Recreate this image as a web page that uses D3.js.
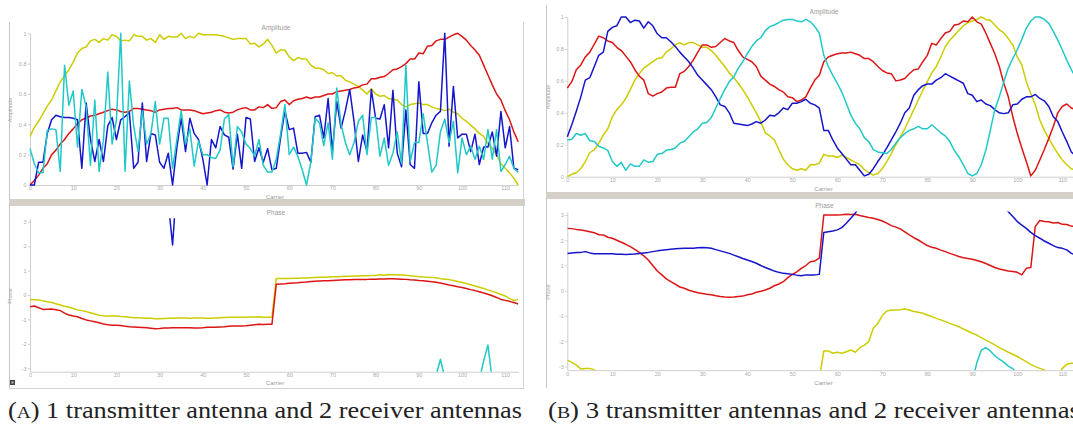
<!DOCTYPE html>
<html><head><meta charset="utf-8">
<script src="https://cdn.jsdelivr.net/npm/d3@7"></script>
<style>body{margin:0;background:#fff}svg{display:block}</style>
</head><body>
<svg id="c" width="1073" height="430"></svg>
<script>
// ---------------- DATA ----------------
const carriers = d3.range(114);
const carrierTicks = [0,10,20,30,40,50,60,70,80,90,100,110];
const ampTicks = [0,0.2,0.4,0.6,0.8,1];
const phaseTicks = [-3,-2,-1,0,1,2,3];
const seriesNames = ["yellow","red","blue","cyan"];

// Panel A (1 TX, 2 RX) amplitude
const ampA_yellow = [0.32,0.38,0.42,0.47,0.52,0.56,0.62,0.68,0.72,0.76,0.81,0.87,0.90,0.91,0.95,0.96,0.94,0.965,0.955,0.99,0.98,0.95,0.955,0.95,0.99,0.98,0.98,0.955,0.965,0.94,0.99,0.96,0.98,0.975,0.975,1.0,0.965,0.98,0.97,1.0,0.99,0.99,0.99,0.99,0.985,0.98,0.97,0.96,0.965,0.965,0.965,0.93,0.935,0.91,0.93,0.96,0.92,0.87,0.89,0.89,0.845,0.82,0.84,0.83,0.83,0.79,0.77,0.77,0.76,0.735,0.74,0.72,0.72,0.69,0.68,0.665,0.65,0.625,0.60,0.635,0.60,0.585,0.59,0.57,0.565,0.56,0.53,0.515,0.53,0.535,0.54,0.53,0.53,0.515,0.505,0.50,0.49,0.50,0.48,0.47,0.44,0.42,0.395,0.37,0.34,0.32,0.275,0.24,0.20,0.14,0.11,0.08,0.045,0.0];
const ampA_red = [0.0,0.03,0.065,0.11,0.14,0.20,0.23,0.27,0.30,0.34,0.37,0.405,0.43,0.44,0.455,0.46,0.47,0.48,0.49,0.50,0.495,0.485,0.48,0.485,0.505,0.505,0.50,0.495,0.49,0.48,0.495,0.50,0.505,0.505,0.51,0.495,0.495,0.495,0.49,0.48,0.47,0.475,0.48,0.49,0.495,0.48,0.475,0.48,0.495,0.505,0.51,0.495,0.495,0.515,0.51,0.53,0.505,0.51,0.55,0.56,0.53,0.555,0.565,0.57,0.58,0.57,0.58,0.58,0.59,0.60,0.60,0.615,0.62,0.625,0.63,0.64,0.645,0.66,0.665,0.70,0.70,0.71,0.715,0.735,0.76,0.765,0.78,0.80,0.83,0.83,0.87,0.865,0.915,0.92,0.95,0.96,0.96,0.975,0.99,1.0,0.98,0.955,0.92,0.89,0.855,0.79,0.725,0.66,0.60,0.56,0.49,0.43,0.35,0.285];
const ampA_blue = [0.0,0.0,0.15,0.15,0.34,0.43,0.46,0.45,0.445,0.445,0.44,0.43,0.11,0.54,0.30,0.155,0.30,0.155,0.39,0.445,0.30,0.43,0.45,0.48,0.11,0.15,0.54,0.155,0.34,0.33,0.15,0.11,0.21,0.0,0.25,0.44,0.22,0.44,0.34,0.30,0.17,0.0,0.30,0.245,0.385,0.33,0.315,0.105,0.335,0.11,0.445,0.435,0.155,0.245,0.15,0.24,0.10,0.11,0.31,0.49,0.365,0.375,0.21,0.21,0.215,0.15,0.45,0.46,0.31,0.57,0.22,0.55,0.375,0.49,0.63,0.42,0.155,0.33,0.22,0.63,0.44,0.435,0.53,0.245,0.625,0.21,0.12,0.495,0.135,0.11,0.68,0.34,0.34,0.41,0.46,0.485,1.0,0.255,0.65,0.31,0.335,0.335,0.22,0.335,0.135,0.25,0.25,0.35,0.19,0.485,0.245,0.385,0.11,0.10];
const ampA_cyan = [0.24,0.14,0.08,0.08,0.36,0.37,0.365,0.09,0.79,0.525,0.62,0.25,0.63,0.515,0.13,0.56,0.09,0.30,0.745,0.27,0.43,1.0,0.09,0.685,0.39,0.22,0.49,0.27,0.34,0.55,0.27,0.44,0.44,0.11,0.30,0.49,0.27,0.37,0.125,0.29,0.20,0.20,0.18,0.175,0.23,0.435,0.465,0.12,0.385,0.35,0.27,0.24,0.19,0.30,0.13,0.085,0.085,0.17,0.335,0.53,0.20,0.25,0.19,0.10,0.0,0.15,0.44,0.41,0.26,0.41,0.17,0.64,0.40,0.28,0.20,0.28,0.42,0.46,0.20,0.445,0.445,0.19,0.31,0.13,0.21,0.35,0.14,0.79,0.155,0.28,0.28,0.47,0.28,0.085,0.13,0.35,0.435,0.28,0.42,0.08,0.31,0.20,0.255,0.17,0.255,0.17,0.365,0.17,0.365,0.09,0.135,0.19,0.11,0.085];

// Panel A phase: visible segments only, as [startCarrier, values]
const phA_yellow = [0, [-0.18,-0.19,-0.2,-0.24,-0.28,-0.31,-0.36,-0.41,-0.46,-0.5,-0.55,-0.61,-0.64,-0.68,-0.73,-0.78,-0.83,-0.85,-0.86,-0.86,-0.86,-0.88,-0.89,-0.91,-0.93,-0.93,-0.94,-0.95,-0.95,-0.97,-0.97,-0.96,-0.95,-0.95,-0.94,-0.94,-0.94,-0.95,-0.94,-0.94,-0.94,-0.95,-0.95,-0.94,-0.93,-0.92,-0.91,-0.91,-0.91,-0.91,-0.91,-0.9,-0.9,-0.89,-0.91,-0.91,-0.91,0.68,0.68,0.68,0.68,0.69,0.69,0.70,0.70,0.71,0.72,0.73,0.73,0.74,0.75,0.75,0.76,0.77,0.77,0.78,0.78,0.79,0.79,0.8,0.8,0.83,0.81,0.84,0.83,0.83,0.82,0.81,0.79,0.77,0.76,0.74,0.73,0.72,0.71,0.67,0.65,0.63,0.59,0.55,0.51,0.47,0.42,0.37,0.32,0.27,0.21,0.15,0.09,0.02,-0.04,-0.15,-0.22,-0.18]];
const phA_red = [0, [-0.48,-0.45,-0.52,-0.59,-0.58,-0.57,-0.6,-0.64,-0.74,-0.82,-0.86,-0.89,-0.96,-1.02,-1.06,-1.1,-1.14,-1.19,-1.22,-1.24,-1.24,-1.25,-1.28,-1.3,-1.31,-1.32,-1.33,-1.34,-1.36,-1.38,-1.37,-1.35,-1.35,-1.34,-1.34,-1.34,-1.34,-1.34,-1.35,-1.35,-1.34,-1.32,-1.32,-1.32,-1.31,-1.3,-1.28,-1.27,-1.27,-1.27,-1.26,-1.24,-1.22,-1.2,-1.21,-1.2,-1.2,0.44,0.45,0.46,0.48,0.49,0.5,0.52,0.53,0.55,0.56,0.57,0.58,0.58,0.59,0.6,0.61,0.62,0.62,0.63,0.63,0.64,0.64,0.65,0.65,0.66,0.66,0.67,0.67,0.66,0.65,0.64,0.62,0.61,0.59,0.58,0.56,0.54,0.52,0.49,0.45,0.41,0.38,0.34,0.31,0.27,0.22,0.18,0.13,0.08,0.03,-0.03,-0.1,-0.18,-0.22,-0.26,-0.31,-0.37]];
const phA_blue = [32, [3.8,2.05,4.6]];
const phA_cyan1 = [94, [-3.3,-2.63,-3.4]];
const phA_cyan2 = [104, [-3.5,-2.7,-2.05,-3.5]];

// Panel B (3 TX, 2 RX) amplitude
const ampB_yellow = [0.0,0.015,0.025,0.05,0.095,0.15,0.17,0.21,0.26,0.30,0.375,0.42,0.45,0.49,0.545,0.605,0.645,0.68,0.70,0.72,0.74,0.745,0.78,0.80,0.825,0.84,0.825,0.84,0.84,0.825,0.81,0.81,0.79,0.76,0.725,0.69,0.65,0.62,0.585,0.545,0.50,0.45,0.40,0.345,0.275,0.255,0.23,0.17,0.11,0.075,0.05,0.04,0.05,0.04,0.075,0.075,0.085,0.14,0.13,0.13,0.12,0.135,0.12,0.105,0.09,0.075,0.045,0.025,0.01,0.02,0.05,0.095,0.145,0.20,0.25,0.30,0.36,0.42,0.48,0.54,0.595,0.65,0.69,0.75,0.815,0.855,0.885,0.915,0.945,0.965,0.975,0.985,1.0,0.985,0.98,0.95,0.92,0.90,0.865,0.825,0.75,0.70,0.595,0.52,0.45,0.355,0.29,0.24,0.19,0.145,0.105,0.075,0.05,0.04];
const ampB_red = [0.555,0.595,0.67,0.70,0.75,0.78,0.83,0.88,0.87,0.85,0.84,0.81,0.79,0.755,0.72,0.67,0.63,0.605,0.52,0.505,0.52,0.53,0.555,0.56,0.56,0.645,0.66,0.69,0.73,0.78,0.825,0.825,0.81,0.815,0.84,0.865,0.85,0.84,0.79,0.75,0.735,0.72,0.69,0.63,0.605,0.58,0.565,0.545,0.53,0.50,0.495,0.47,0.48,0.50,0.555,0.605,0.635,0.72,0.75,0.76,0.77,0.775,0.775,0.78,0.77,0.76,0.74,0.74,0.72,0.69,0.665,0.65,0.645,0.60,0.605,0.615,0.645,0.67,0.675,0.72,0.76,0.835,0.825,0.865,0.90,0.91,0.95,0.955,0.975,0.97,1.0,0.97,0.955,0.90,0.835,0.77,0.69,0.585,0.50,0.375,0.27,0.18,0.095,0.005,0.04,0.105,0.17,0.24,0.315,0.40,0.44,0.455,0.43,0.42];
const ampB_blue = [0.25,0.325,0.41,0.50,0.605,0.62,0.69,0.76,0.78,0.91,0.935,0.945,1.0,1.0,0.965,0.98,0.975,0.93,0.97,0.945,0.895,0.87,0.87,0.845,0.815,0.78,0.75,0.72,0.68,0.635,0.605,0.575,0.545,0.50,0.45,0.44,0.40,0.335,0.33,0.325,0.32,0.33,0.345,0.335,0.355,0.385,0.38,0.40,0.43,0.42,0.46,0.46,0.47,0.485,0.46,0.45,0.43,0.29,0.29,0.23,0.18,0.145,0.11,0.075,0.075,0.04,0.005,0.015,0.05,0.095,0.135,0.18,0.23,0.28,0.335,0.40,0.43,0.51,0.545,0.57,0.58,0.58,0.605,0.62,0.645,0.63,0.615,0.60,0.585,0.52,0.51,0.47,0.48,0.455,0.445,0.42,0.40,0.395,0.40,0.45,0.455,0.485,0.50,0.50,0.515,0.49,0.475,0.44,0.375,0.345,0.28,0.22,0.155,0.13];
const ampB_cyan = [0.23,0.235,0.27,0.26,0.27,0.225,0.22,0.19,0.18,0.165,0.095,0.065,0.09,0.04,0.08,0.065,0.065,0.105,0.09,0.095,0.14,0.145,0.165,0.17,0.18,0.21,0.22,0.25,0.28,0.30,0.335,0.34,0.37,0.43,0.49,0.545,0.595,0.625,0.68,0.72,0.77,0.815,0.85,0.87,0.915,0.94,0.95,0.965,0.98,0.985,0.985,0.975,0.97,0.985,0.97,0.94,0.90,0.76,0.69,0.635,0.585,0.53,0.46,0.385,0.335,0.30,0.245,0.22,0.17,0.155,0.15,0.145,0.17,0.21,0.245,0.27,0.29,0.30,0.315,0.30,0.30,0.325,0.30,0.275,0.255,0.22,0.165,0.125,0.075,0.02,0.005,0.02,0.075,0.165,0.29,0.42,0.50,0.595,0.68,0.74,0.795,0.86,0.93,0.975,1.0,1.0,0.985,0.96,0.91,0.855,0.795,0.73,0.67,0.62];

// Panel B phase: visible segments
const phB_red = [0, [2.47,2.46,2.43,2.41,2.38,2.34,2.30,2.22,2.21,2.12,2.08,2.0,1.92,1.84,1.75,1.64,1.52,1.38,1.22,1.0,0.785,0.63,0.47,0.36,0.26,0.15,0.10,0.02,-0.03,-0.08,-0.11,-0.14,-0.16,-0.2,-0.23,-0.25,-0.26,-0.25,-0.23,-0.21,-0.16,-0.13,-0.06,-0.02,0.03,0.1,0.20,0.27,0.36,0.52,0.65,0.75,0.89,1.0,1.15,1.18,1.29,3.0,3.0,3.0,3.0,3.01,3.03,3.02,3.03,2.98,2.94,2.9,2.87,2.82,2.76,2.68,2.58,2.52,2.45,2.33,2.21,2.1,2.01,1.9,1.79,1.72,1.68,1.61,1.55,1.48,1.42,1.36,1.31,1.28,1.25,1.2,1.15,1.08,1.0,0.92,0.86,0.82,0.78,0.76,0.73,0.63,0.89,0.92,2.55,2.78,2.74,2.73,2.68,2.7,2.63,2.62,2.56,2.54]];
const phB_blue1 = [0, [1.48,1.5,1.52,1.52,1.55,1.5,1.47,1.47,1.47,1.47,1.47,1.45,1.45,1.44,1.45,1.46,1.48,1.5,1.52,1.55,1.58,1.6,1.62,1.64,1.66,1.67,1.68,1.68,1.68,1.7,1.71,1.7,1.68,1.63,1.58,1.53,1.48,1.41,1.35,1.28,1.22,1.16,1.09,1.0,0.92,0.85,0.78,0.73,0.69,0.67,0.65,0.62,0.60,0.63,0.63,0.63,0.65,2.31,2.34,2.37,2.41,2.5,2.67,2.87,3.07,3.35]];
const phB_blue2 = [97, [3.3,3.13,2.94,2.74,2.6,2.47,2.31,2.18,2.08,1.97,1.88,1.79,1.71,1.68,1.62,1.48,1.42]];
const phB_yellow1 = [0, [-2.74,-2.83,-2.94,-3.09,-3.07,-3.07,-3.13,-3.4]];
const phB_yellow2 = [56, [-3.5,-2.38,-2.38,-2.47,-2.43,-2.47,-2.41,-2.34,-2.43,-2.25,-2.15,-2.01,-1.48,-1.29,-0.98,-0.80,-0.76,-0.76,-0.75,-0.72,-0.76,-0.82,-0.85,-0.89,-0.96,-1.02,-1.09,-1.15,-1.22,-1.29,-1.35,-1.42,-1.51,-1.59,-1.68,-1.75,-1.85,-1.95,-2.04,-2.14,-2.25,-2.34,-2.43,-2.51,-2.60,-2.70,-2.80,-2.91,-3.0,-3.07,-3.13,-3.4]];
const phB_yellow3 = [109, [-3.4,-3.07,-2.91,-2.87,-2.85]];
const phB_cyan = [90, [-3.6,-2.85,-2.35,-2.25,-2.38,-2.57,-2.7,-2.82,-2.98,-3.08,-3.3]];

// ---------------- DRAW ----------------
const colors = {yellow:"#cccc00", red:"#dd1515", blue:"#1515cc", cyan:"#20c8c8"};
const svg = d3.select("#c");
svg.append("rect").attr("width",1073).attr("height",430).attr("fill","#fff");

// turn [start, values] segments into a list of [carrier, value] point arrays
function segs(...list){ return list.map(([s,vals]) => vals.map((v,i)=>[carriers[s+i], v])); }
function full(vals){ return [carriers.map(i=>[i, vals[i]])]; }

const panels = [
  {id:"A", x0:30, x1:518.2, frame:{l:9, r:523, t:22}, band:{x0:9,x1:525,y0:199,y1:206},
   amp:{top:33.3, bot:185, title:[276,30], xlab:[275,199], ylab:[12,110]},
   ph:{top:218.3, bot:371.7, title:[276,215], xlab:[275,385], ylab:[12,296]},
   ampSeries:{yellow:full(ampA_yellow), red:full(ampA_red), blue:full(ampA_blue), cyan:full(ampA_cyan)},
   phSeries:{yellow:segs(phA_yellow), red:segs(phA_red), blue:segs(phA_blue), cyan:segs(phA_cyan1,phA_cyan2)}},
  {id:"B", x0:567.3, x1:1075.8, frame:{l:546, r:null, t:5}, band:{x0:546,x1:1073,y0:192,y1:199},
   amp:{top:17, bot:176.7, title:[824,14], xlab:[823.5,191], ylab:[550,97]},
   ph:{top:211.4, bot:370.2, title:[824.5,208], xlab:[823.5,385], ylab:[550,292]},
   ampSeries:{yellow:full(ampB_yellow), red:full(ampB_red), blue:full(ampB_blue), cyan:full(ampB_cyan)},
   phSeries:{yellow:segs(phB_yellow1,phB_yellow2,phB_yellow3), red:segs(phB_red), blue:segs(phB_blue1,phB_blue2), cyan:segs(phB_cyan)}}
];

const FONT = "Liberation Sans, Arial, sans-serif";

panels.forEach(p => {
  const g = svg.append("g");
  g.append("line").attr("x1",p.frame.l+0.5).attr("x2",p.frame.l+0.5).attr("y1",p.frame.t).attr("y2",388)
    .attr("stroke","#c4c4c4");
  if (p.frame.r) {
    g.append("line").attr("x1",p.frame.r+0.5).attr("x2",p.frame.r+0.5).attr("y1",p.frame.t).attr("y2",388).attr("stroke","#d4d4d4");
    g.append("line").attr("x1",p.frame.l).attr("x2",p.frame.r+1).attr("y1",388.5).attr("y2",388.5).attr("stroke","#d4d4d4");
  }
  g.append("rect").attr("x",p.band.x0).attr("y",p.band.y0).attr("width",p.band.x1-p.band.x0).attr("height",p.band.y1-p.band.y0)
    .attr("fill","#d4d0c8");

  const x = d3.scaleLinear().domain([0,113]).range([p.x0,p.x1]);
  const plots = [
    {cfg:p.amp, y:d3.scaleLinear().domain([0,1]).range([p.amp.bot,p.amp.top]), ticks:ampTicks, series:p.ampSeries, title:"Amplitude", ylab:"Amplitude", pad:1.5},
    {cfg:p.ph, y:d3.scaleLinear().domain([-Math.PI,Math.PI]).range([p.ph.bot,p.ph.top]), ticks:phaseTicks, series:p.phSeries, title:"Phase", ylab:"Phase", pad:0}
  ];
  plots.forEach((pl,k) => {
    const c = pl.cfg;
    const ya = g.append("g").attr("transform",`translate(${p.x0},0)`)
      .call(d3.axisLeft(pl.y).tickValues(pl.ticks).tickSize(2).tickSizeOuter(0).tickPadding(1.5).tickFormat(d=>String(d)));
    const xa = g.append("g").attr("transform",`translate(0,${c.bot})`)
      .call(d3.axisBottom(x).tickValues(carrierTicks).tickSize(0).tickSizeOuter(0).tickPadding(1.5));
    [ya,xa].forEach(a=>{
      a.select(".domain").attr("stroke","#cfcfcf");
      a.selectAll(".tick line").attr("stroke","#cfcfcf");
      a.selectAll("text").attr("fill","#aaa").attr("font-size",5.5).attr("font-family",FONT);
    });
    g.append("text").attr("x",c.title[0]).attr("y",c.title[1]).attr("text-anchor","middle")
      .attr("font-size",6.5).attr("font-family",FONT).attr("fill","#9a9a9a").text(pl.title);
    g.append("text").attr("x",c.xlab[0]).attr("y",c.xlab[1]).attr("text-anchor","middle")
      .attr("font-size",6).attr("font-family",FONT).attr("fill","#9a9a9a").text("Carrier");
    g.append("text").attr("transform",`translate(${c.ylab[0]},${c.ylab[1]}) rotate(-90)`).attr("text-anchor","middle")
      .attr("font-size",5.5).attr("font-family",FONT).attr("fill","#aaa").text(pl.ylab);
    const cid = `clip${p.id}${k}`;
    g.append("clipPath").attr("id",cid).append("rect")
      .attr("x",p.x0-pl.pad).attr("y",c.top-pl.pad).attr("width",Math.min(p.x1,1073)-p.x0+2*pl.pad).attr("height",c.bot-c.top+2*pl.pad);
    const line = d3.line().x(d=>x(d[0])).y(d=>pl.y(d[1]));
    const lg = g.append("g").attr("clip-path",`url(#${cid})`);
    seriesNames.forEach(s => {
      pl.series[s].forEach(seg => {
        lg.append("path").datum(seg)
          .attr("d",line).attr("fill","none").attr("stroke",colors[s]).attr("stroke-width",1.5)
          .attr("stroke-linejoin","round");
      });
    });
  });
});
svg.append("rect").attr("x",10).attr("y",380).attr("width",5).attr("height",5).attr("fill","#444");
svg.append("rect").attr("x",11.5).attr("y",381.5).attr("width",2).attr("height",2).attr("fill","#bbb");

const captions = [
  {x:8, w:514, lab:"A", rest:" 1 transmitter antenna and 2 receiver antennas"},
  {x:548, w:532, lab:"B", rest:" 3 transmitter antennas and 2 receiver antennas"}
];
captions.forEach(cp => {
  const t = svg.append("text").attr("x",cp.x).attr("y",418).attr("font-family","Liberation Serif, serif")
    .attr("font-size",23).attr("fill","#222").attr("textLength",cp.w).attr("lengthAdjust","spacingAndGlyphs");
  t.append("tspan").text("(");
  t.append("tspan").attr("font-size",17).text(cp.lab);
  t.append("tspan").text(")" + cp.rest);
});
</script>
</body></html>
